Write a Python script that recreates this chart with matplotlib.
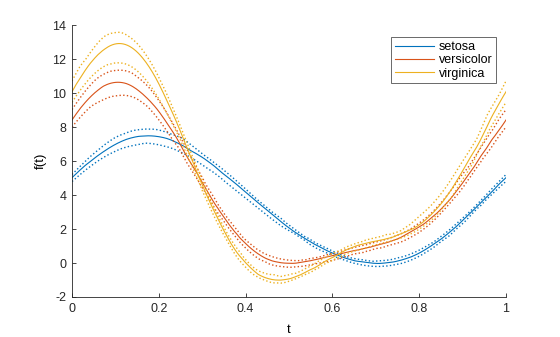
import numpy as np
import matplotlib
matplotlib.use("Agg")
import matplotlib.pyplot as plt

plt.rcParams["font.family"] = ["Liberation Sans", "DejaVu Sans"]
plt.rcParams["axes.unicode_minus"] = False

# Fisher iris measurements: sepal length, sepal width, petal length, petal width
setosa = np.array([
    [5.1, 3.5, 1.4, 0.2], [4.9, 3.0, 1.4, 0.2], [4.7, 3.2, 1.3, 0.2], [4.6, 3.1, 1.5, 0.2],
    [5.0, 3.6, 1.4, 0.2], [5.4, 3.9, 1.7, 0.4], [4.6, 3.4, 1.4, 0.3], [5.0, 3.4, 1.5, 0.2],
    [4.4, 2.9, 1.4, 0.2], [4.9, 3.1, 1.5, 0.1], [5.4, 3.7, 1.5, 0.2], [4.8, 3.4, 1.6, 0.2],
    [4.8, 3.0, 1.4, 0.1], [4.3, 3.0, 1.1, 0.1], [5.8, 4.0, 1.2, 0.2], [5.7, 4.4, 1.5, 0.4],
    [5.4, 3.9, 1.3, 0.4], [5.1, 3.5, 1.4, 0.3], [5.7, 3.8, 1.7, 0.3], [5.1, 3.8, 1.5, 0.3],
    [5.4, 3.4, 1.7, 0.2], [5.1, 3.7, 1.5, 0.4], [4.6, 3.6, 1.0, 0.2], [5.1, 3.3, 1.7, 0.5],
    [4.8, 3.4, 1.9, 0.2], [5.0, 3.0, 1.6, 0.2], [5.0, 3.4, 1.6, 0.4], [5.2, 3.5, 1.5, 0.2],
    [5.2, 3.4, 1.4, 0.2], [4.7, 3.2, 1.6, 0.2], [4.8, 3.1, 1.6, 0.2], [5.4, 3.4, 1.5, 0.4],
    [5.2, 4.1, 1.5, 0.1], [5.5, 4.2, 1.4, 0.2], [4.9, 3.1, 1.5, 0.2], [5.0, 3.2, 1.2, 0.2],
    [5.5, 3.5, 1.3, 0.2], [4.9, 3.6, 1.4, 0.1], [4.4, 3.0, 1.3, 0.2], [5.1, 3.4, 1.5, 0.2],
    [5.0, 3.5, 1.3, 0.3], [4.5, 2.3, 1.3, 0.3], [4.4, 3.2, 1.3, 0.2], [5.0, 3.5, 1.6, 0.6],
    [5.1, 3.8, 1.9, 0.4], [4.8, 3.0, 1.4, 0.3], [5.1, 3.8, 1.6, 0.2], [4.6, 3.2, 1.4, 0.2],
    [5.3, 3.7, 1.5, 0.2], [5.0, 3.3, 1.4, 0.2],
])
versicolor = np.array([
    [7.0, 3.2, 4.7, 1.4], [6.4, 3.2, 4.5, 1.5], [6.9, 3.1, 4.9, 1.5], [5.5, 2.3, 4.0, 1.3],
    [6.5, 2.8, 4.6, 1.5], [5.7, 2.8, 4.5, 1.3], [6.3, 3.3, 4.7, 1.6], [4.9, 2.4, 3.3, 1.0],
    [6.6, 2.9, 4.6, 1.3], [5.2, 2.7, 3.9, 1.4], [5.0, 2.0, 3.5, 1.0], [5.9, 3.0, 4.2, 1.5],
    [6.0, 2.2, 4.0, 1.0], [6.1, 2.9, 4.7, 1.4], [5.6, 2.9, 3.6, 1.3], [6.7, 3.1, 4.4, 1.4],
    [5.6, 3.0, 4.5, 1.5], [5.8, 2.7, 4.1, 1.0], [6.2, 2.2, 4.5, 1.5], [5.6, 2.5, 3.9, 1.1],
    [5.9, 3.2, 4.8, 1.8], [6.1, 2.8, 4.0, 1.3], [6.3, 2.5, 4.9, 1.5], [6.1, 2.8, 4.7, 1.2],
    [6.4, 2.9, 4.3, 1.3], [6.6, 3.0, 4.4, 1.4], [6.8, 2.8, 4.8, 1.4], [6.7, 3.0, 5.0, 1.7],
    [6.0, 2.9, 4.5, 1.5], [5.7, 2.6, 3.5, 1.0], [5.5, 2.4, 3.8, 1.1], [5.5, 2.4, 3.7, 1.0],
    [5.8, 2.7, 3.9, 1.2], [6.0, 2.7, 5.1, 1.6], [5.4, 3.0, 4.5, 1.5], [6.0, 3.4, 4.5, 1.6],
    [6.7, 3.1, 4.7, 1.5], [6.3, 2.3, 4.4, 1.3], [5.6, 3.0, 4.1, 1.3], [5.5, 2.5, 4.0, 1.3],
    [5.5, 2.6, 4.4, 1.2], [6.1, 3.0, 4.6, 1.4], [5.8, 2.6, 4.0, 1.2], [5.0, 2.3, 3.3, 1.0],
    [5.6, 2.7, 4.2, 1.3], [5.7, 3.0, 4.2, 1.2], [5.7, 2.9, 4.2, 1.3], [6.2, 2.9, 4.3, 1.3],
    [5.1, 2.5, 3.0, 1.1], [5.7, 2.8, 4.1, 1.3],
])
virginica = np.array([
    [6.3, 3.3, 6.0, 2.5], [5.8, 2.7, 5.1, 1.9], [7.1, 3.0, 5.9, 2.1], [6.3, 2.9, 5.6, 1.8],
    [6.5, 3.0, 5.8, 2.2], [7.6, 3.0, 6.6, 2.1], [4.9, 2.5, 4.5, 1.7], [7.3, 2.9, 6.3, 1.8],
    [6.7, 2.5, 5.8, 1.8], [7.2, 3.6, 6.1, 2.5], [6.5, 3.2, 5.1, 2.0], [6.4, 2.7, 5.3, 1.9],
    [6.8, 3.0, 5.5, 2.1], [5.7, 2.5, 5.0, 2.0], [5.8, 2.8, 5.1, 2.4], [6.4, 3.2, 5.3, 2.3],
    [6.5, 3.0, 5.5, 1.8], [7.7, 3.8, 6.7, 2.2], [7.7, 2.6, 6.9, 2.3], [6.0, 2.2, 5.0, 1.5],
    [6.9, 3.2, 5.7, 2.3], [5.6, 2.8, 4.9, 2.0], [7.7, 2.8, 6.7, 2.0], [6.3, 2.7, 4.9, 1.8],
    [6.7, 3.3, 5.7, 2.1], [7.2, 3.2, 6.0, 1.8], [6.2, 2.8, 4.8, 1.8], [6.1, 3.0, 4.9, 1.8],
    [6.4, 2.8, 5.6, 2.1], [7.2, 3.0, 5.8, 1.6], [7.4, 2.8, 6.1, 1.9], [7.9, 3.8, 6.4, 2.0],
    [6.4, 2.8, 5.6, 2.2], [6.3, 2.8, 5.1, 1.5], [6.1, 2.6, 5.6, 1.4], [7.7, 3.0, 6.1, 2.3],
    [6.3, 3.4, 5.6, 2.4], [6.4, 3.1, 5.5, 1.8], [6.0, 3.0, 4.8, 1.8], [6.9, 3.1, 5.4, 2.1],
    [6.7, 3.1, 5.6, 2.4], [6.9, 3.1, 5.1, 2.3], [5.8, 2.7, 5.1, 1.9], [6.8, 3.2, 5.9, 2.3],
    [6.7, 3.3, 5.7, 2.5], [6.7, 3.0, 5.2, 2.3], [6.3, 2.5, 5.0, 1.9], [6.5, 3.0, 5.2, 2.0],
    [6.2, 3.4, 5.4, 2.3], [5.9, 3.0, 5.1, 1.8],
])

species = ["setosa", "versicolor", "virginica"]
colors = ["#0072BD", "#D95319", "#EDB120"]
quant = 0.25

t = np.linspace(0, 1, 400)


def andrews(X, t):
    # f(t) = x1/sqrt(2) + x2 sin(2 pi t) + x3 cos(2 pi t) + x4 sin(4 pi t)
    basis = np.vstack([
        np.full_like(t, 1 / np.sqrt(2)),
        np.sin(2 * np.pi * t),
        np.cos(2 * np.pi * t),
        np.sin(4 * np.pi * t),
    ])
    return X @ basis


fig = plt.figure(figsize=(5.6, 3.37), dpi=100)
ax = fig.add_axes([0.1286, 0.1187, 0.775, 0.807])

for X, name, c in zip([setosa, versicolor, virginica], species, colors):
    F = andrews(X, t)
    lo, med, hi = np.quantile(F, [quant, 0.5, 1 - quant], axis=0, method="hazen")
    ax.plot(t, med, color=c, lw=0.8, label=name)
    ax.plot(t, lo, color=c, lw=1.0, ls=":")
    ax.plot(t, hi, color=c, lw=1.0, ls=":")

ax.set_xlim(0, 1)
ax.set_ylim(-2, 14)
ax.set_xticks(np.arange(0, 1.01, 0.2))
ax.set_xticklabels(["0", "0.2", "0.4", "0.6", "0.8", "1"])
ax.set_yticks(np.arange(-2, 15, 2))
ax.set_xlabel("t", fontsize=9.5, labelpad=7)
ax.set_ylabel("f(t)", fontsize=9.5, labelpad=4)
ax.tick_params(direction="in", labelsize=9, length=3, width=0.6, colors="#262626", pad=4)
for s in ["top", "right"]:
    ax.spines[s].set_visible(False)
for s in ["left", "bottom"]:
    ax.spines[s].set_linewidth(0.6)
    ax.spines[s].set_color("#262626")

leg = ax.legend(loc="upper right", bbox_to_anchor=(0.978, 0.955), fontsize=9,
                frameon=True, fancybox=False, handlelength=3.1, handletextpad=0.4,
                borderpad=0.3, labelspacing=0.1, borderaxespad=0)
leg.get_frame().set_edgecolor("#262626")
leg.get_frame().set_linewidth(0.6)

fig.savefig("out.png", dpi=100)
